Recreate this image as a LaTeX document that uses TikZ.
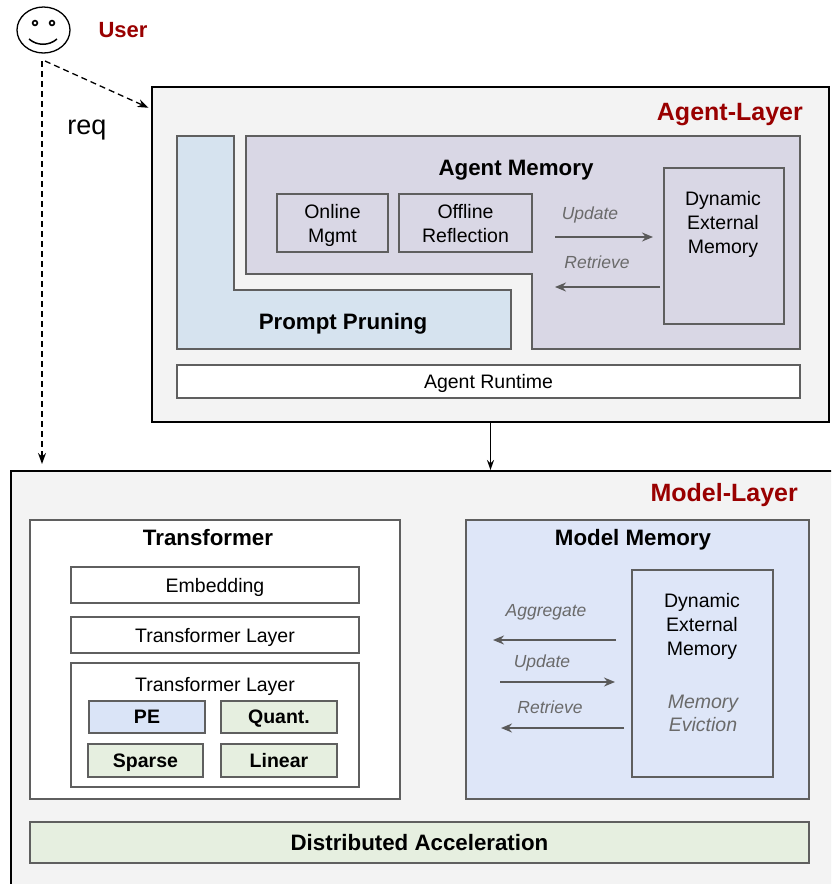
\documentclass[tikz,border=0pt]{standalone}
\usepackage{fontspec}
\setmainfont{Liberation Sans}
\usetikzlibrary{arrows.meta,shapes.geometric}
\definecolor{darkred}{HTML}{990000}
\definecolor{layerfill}{HTML}{F3F3F3}
\definecolor{ppfill}{HTML}{D6E3EF}
\definecolor{amfill}{HTML}{D9D7E5}
\definecolor{mmfill}{HTML}{DEE6F8}
\definecolor{pefill}{HTML}{DAE4F7}
\definecolor{grfill}{HTML}{E6EFE0}
\definecolor{edgegrey}{HTML}{5F5F5F}
\definecolor{lblgrey}{HTML}{6A6A6A}
\definecolor{arrgrey}{HTML}{5A5A5A}
\tikzset{
  layerbox/.style={draw=black, line width=1.5pt, fill=layerfill},
  inbox/.style={draw=edgegrey, line width=1.5pt, inner sep=0pt, align=center,
    text depth=0pt, font=\fontsize{19.5}{24}\selectfont},
  boldsmall/.style={inbox, font=\fontsize{19.5}{24}\selectfont\bfseries},
  title/.style={font=\fontsize{22.3}{26}\selectfont\bfseries, inner sep=0pt, text depth=0pt},
  layertitle/.style={font=\fontsize{25}{28}\selectfont\bfseries, text=darkred, inner sep=0pt, text depth=0pt},
  flowlbl/.style={font=\fontsize{17.5}{20}\selectfont\itshape, text=lblgrey, inner sep=0pt, text depth=0pt},
  flow/.style={draw=arrgrey, line width=1.6pt, -{Stealth[length=11pt,width=9pt]}},
  userarrow/.style={draw=black, line width=1.3pt, dash pattern=on 6pt off 4pt,
    -{Stealth[length=11pt,width=8pt]}},
}
\begin{document}
\begin{tikzpicture}[x=1pt,y=-1pt]
\useasboundingbox (0,0) rectangle (831,884);
\begin{scope}
\clip (0,0) rectangle (831,884);

% ---------- User ----------
\node[draw=black, line width=1.3pt, ellipse, minimum width=53pt, minimum height=46pt, inner sep=0pt] (face) at (43.5,30) {};
\draw[line width=1.6pt] (35,23) circle (2.4);
\draw[line width=1.6pt] (52,23) circle (2.4);
\draw[line width=1.5pt] (29,39) .. controls (37,46) and (49,46) .. (57,39);
\node[font=\fontsize{22}{26}\selectfont\bfseries, text=darkred, inner sep=0pt, text depth=0pt] (user) at (123,30) {User};
\coordinate (ustart) at (42,61);
\coordinate (ustart2) at (45,61);

% ---------- Agent layer ----------
\node[layerbox, minimum width=677pt, minimum height=335pt, inner sep=0pt] (agent) at (490.5,254.5) {};
\node[layertitle, anchor=east] (agenttitle) at (803,112) {Agent-Layer};

% prompt pruning L-shape
\draw[draw=edgegrey, line width=1.5pt, fill=ppfill]
  (177,136) -- (234,136) -- (234,290) -- (511,290) -- (511,349) -- (177,349) -- cycle;
\node[title] (pp) at (343,321) {Prompt Pruning};

% agent memory shape
\draw[draw=edgegrey, line width=1.5pt, fill=amfill]
  (246,136) -- (800,136) -- (800,349) -- (532,349) -- (532,274) -- (246,274) -- cycle;
\node[title] (am) at (516,168) {Agent Memory};

\node[inbox, minimum width=111pt, minimum height=58pt] (online) at (332.5,223) {Online\\Mgmt};
\node[inbox, minimum width=133pt, minimum height=58pt] (offline) at (465.5,223) {Offline\\Reflection};
\node[inbox, minimum width=120pt, minimum height=156pt] (dem1) at (724,246) {};
\node[font=\fontsize{19.5}{24}\selectfont, align=center, inner sep=0pt, anchor=north] (dem1t) at (723,191) {Dynamic\\External\\Memory};

\coordinate (au1) at (555,237);
\coordinate (au2) at (653,237);
\coordinate (ar1) at (660,287);
\coordinate (ar2) at (555,287);
\draw[flow] (au1) -- (au2);
\draw[flow] (ar1) -- (ar2);
\node[flowlbl] (aul) at (590,213) {Update};
\node[flowlbl] (arl) at (597,262) {Retrieve};

\node[inbox, fill=white, minimum width=623pt, minimum height=33pt] (runtime) at (488.5,381.5) {Agent Runtime};

% ---------- Model layer ----------
\node[layerbox, minimum width=840pt, minimum height=430pt, inner sep=0pt, anchor=north west] (model) at (10,470) {};
\node[layertitle, anchor=east] (modeltitle) at (798,492) {Model-Layer};

\node[inbox, fill=white, minimum width=370pt, minimum height=279pt] (trans) at (215,659.5) {};
\node[title] (transt) at (208,537.5) {Transformer};
\node[inbox, fill=white, minimum width=288pt, minimum height=36pt] (emb) at (215,585) {Embedding};
\node[inbox, fill=white, minimum width=288pt, minimum height=36pt] (tl1) at (215,635) {Transformer Layer};
\node[inbox, fill=white, minimum width=288pt, minimum height=124pt] (tl2) at (215,725) {};
\node[font=\fontsize{19.5}{24}\selectfont, inner sep=0pt, text depth=0pt] (tl2t) at (215,684) {Transformer Layer};
\node[boldsmall, fill=pefill, minimum width=116pt, minimum height=32pt] (pe) at (147,717) {PE};
\node[boldsmall, fill=grfill, minimum width=116pt, minimum height=32pt] (quant) at (279,717) {Quant.};
\node[boldsmall, fill=grfill, minimum width=115pt, minimum height=33pt] (sparse) at (145.5,760.5) {Sparse};
\node[boldsmall, fill=grfill, minimum width=116pt, minimum height=33pt] (linear) at (279,760.5) {Linear};

\node[inbox, fill=mmfill, minimum width=343pt, minimum height=279pt] (mm) at (637.5,659.5) {};
\node[title] (mmt) at (633,537) {Model Memory};
\node[inbox, minimum width=141pt, minimum height=207pt] (dem2) at (702.5,673.5) {};
\node[font=\fontsize{19.5}{24}\selectfont, align=center, inner sep=0pt, anchor=north] (dem2t) at (702,593) {Dynamic\\External\\Memory};
\node[font=\fontsize{19.5}{23.5}\selectfont\itshape, text=lblgrey, align=center, inner sep=0pt] (evict) at (703,713.5) {Memory\\Eviction};

\coordinate (mg1) at (616,640);
\coordinate (mg2) at (493,640);
\coordinate (mu1) at (500,682);
\coordinate (mu2) at (615,682);
\coordinate (mr1) at (624,728);
\coordinate (mr2) at (501,728);
\draw[flow] (mg1) -- (mg2);
\draw[flow] (mu1) -- (mu2);
\draw[flow] (mr1) -- (mr2);
\node[flowlbl] (mgl) at (546,610) {Aggregate};
\node[flowlbl] (mul) at (542,661) {Update};
\node[flowlbl] (mrl) at (550,707) {Retrieve};

\node[inbox, fill=grfill, minimum width=779pt, minimum height=41pt, font=\fontsize{22.3}{26}\selectfont\bfseries] (dist) at (419.5,842.5) {Distributed Acceleration};

% ---------- connectors ----------
\draw[userarrow, shorten >=6pt] (ustart) -- (ustart |- model.north);
\draw[userarrow, shorten >=3pt] (ustart2) -- (agent.west |- 0,109);
\node[font=\fontsize{27}{30}\selectfont, inner sep=0pt, text depth=0pt] (req) at (87,127) {req};
\draw[draw=black, line width=1.5pt, -{Stealth[length=10pt,width=7pt]}] (agent.south) -- (agent.south |- model.north);
\end{scope}
\end{tikzpicture}
\end{document}
